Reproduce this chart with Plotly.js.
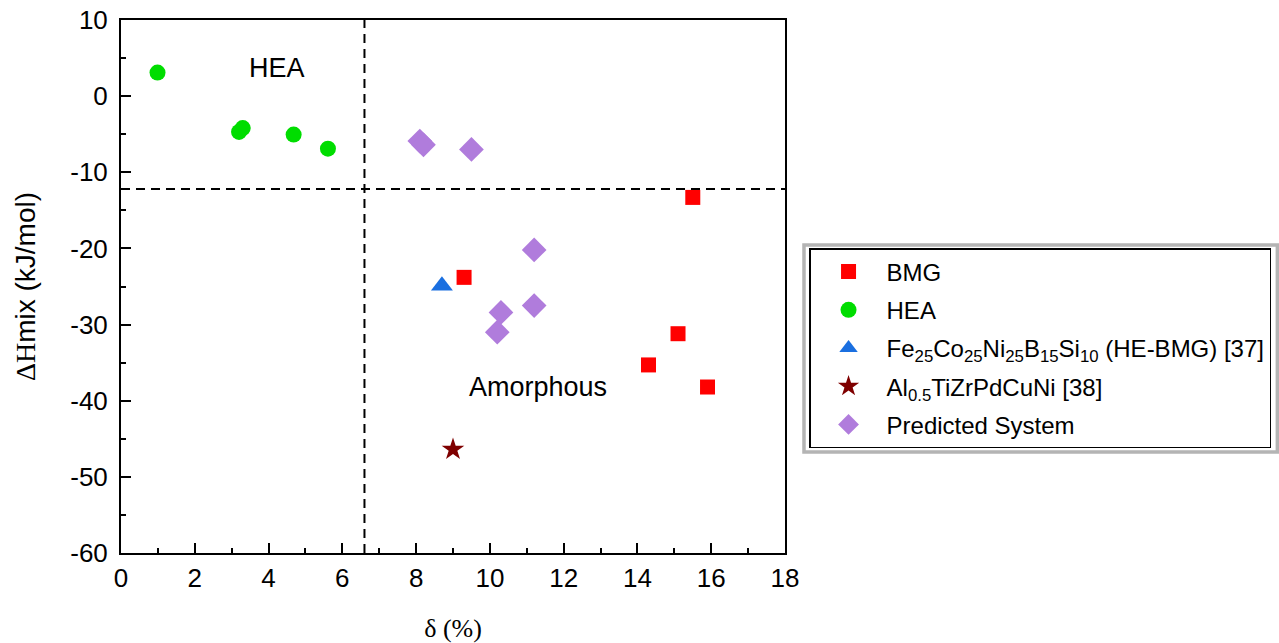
<!DOCTYPE html>
<html>
<head>
<meta charset="utf-8">
<script src="https://cdn.plot.ly/plotly-3.0.1.min.js"></script>
<style>html,body{margin:0;padding:0;background:#fff;}#chart{width:1279px;height:643px;}</style>
</head>
<body>
<div id="chart"></div>
<script>
// ---- data ----
const bmgDelta = [15.5, 9.3, 15.1, 14.3, 15.9];
const bmgH     = [-13.3, -23.8, -31.2, -35.3, -38.2];
const heaDelta = [0.99, 3.2, 3.3, 4.68, 5.61];
const heaH     = [3.1, -4.7, -4.2, -5.05, -6.9];
const hebmgDelta = [8.7];
const hebmgH     = [-24.9];
const alDelta = [9.0];
const alH     = [-46.4];
const predDelta = [8.1, 8.2, 9.5, 11.2, 10.3, 10.2, 11.2];
const predH     = [-5.9, -6.4, -7.0, -20.2, -28.4, -31.0, -27.5];
const deltaThreshold = 6.6;
const hThreshold = -12.2;
const xRange = [0, 18];
const yRange = [-60, 10];
const xTickVals = [0, 2, 4, 6, 8, 10, 12, 14, 16, 18];
const xTickText = ['0', '2', '4', '6', '8', '10', '12', '14', '16', '18'];
const yTickVals = [-60, -50, -40, -30, -20, -10, 0, 10];
const yTickText = ['-60', '-50', '-40', '-30', '-20', '-10', '0', '10'];
const regionLabels = ['HEA', 'Amorphous'];
const regionX = [4.22, 11.3];
const regionY = [3.7, -38.2];
const seriesNames = ['BMG', 'HEA',
  'Fe<sub>25</sub>Co<sub>25</sub>Ni<sub>25</sub>B<sub>15</sub>Si<sub>10</sub> (HE-BMG) [37]',
  'Al<sub>0.5</sub>TiZrPdCuNi [38]', 'Predicted System'];

const sans = 'Liberation Sans, Arial, sans-serif';
const serif = 'Liberation Serif, Times New Roman, serif';

function tr(x, y, name, symbol, color, size, g) {
  return {x: x, y: y, name: name, type: 'scatter', mode: 'markers',
    legendgroup: g, cliponaxis: false,
    marker: {symbol: symbol, color: color, size: size, line: {width: 0}}};
}
const data = [
  tr(bmgDelta, bmgH, seriesNames[0], 'square', '#ff0000', 15, 'a'),
  tr(heaDelta, heaH, seriesNames[1], 'circle', '#00dd00', 16, 'b'),
  tr(hebmgDelta, hebmgH, seriesNames[2], 'triangle-up', '#1a6fe0', 19, 'c'),
  tr(alDelta, alH, seriesNames[3], 'star', '#7f0000', 17, 'd'),
  tr(predDelta, predH, seriesNames[4], 'diamond', '#b07cdc', 19, 'e')
];

const axisCommon = {
  ticks: 'inside', ticklen: 10, tickwidth: 2, tickcolor: '#000',
  showline: true, linecolor: '#000', linewidth: 2,
  mirror: true, showgrid: false, zeroline: false,
  tickmode: 'array',
  tickfont: {family: sans, size: 26, color: '#000'}
};

const layout = {
  width: 1279, height: 643,
  margin: {l: 121, r: 494, t: 20, b: 90, autoexpand: false},
  paper_bgcolor: '#fff', plot_bgcolor: '#fff',
  font: {family: sans, color: '#000', size: 20},
  showlegend: true,
  legend: {
    x: 1.0362, y: 0.5722, xanchor: 'left', yanchor: 'top',
    bordercolor: '#000', borderwidth: 1.5, bgcolor: '#fff',
    font: {family: sans, size: 24, color: '#000'},
    traceorder: 'grouped', tracegroupgap: 4,
    itemwidth: 66
  },
  xaxis: Object.assign({}, axisCommon, {
    range: xRange, tickvals: xTickVals, ticktext: xTickText,
    ticklabelstandoff: 1,
    minor: {dtick: 1, ticks: 'inside', ticklen: 5, tickwidth: 2, tickcolor: '#000', showgrid: false},
    title: {text: 'δ (%)', font: {family: serif, size: 26}, standoff: 27}
  }),
  yaxis: Object.assign({}, axisCommon, {
    range: yRange, tickvals: yTickVals, ticktext: yTickText,
    ticklabelstandoff: 6,
    minor: {dtick: 5, ticks: 'inside', ticklen: 5, tickwidth: 2, tickcolor: '#000', showgrid: false},
    title: {text: '<span style="font-family:Liberation Serif">ΔH</span>mix (kJ/mol)', font: {family: sans, size: 28}, standoff: 26}
  }),
  shapes: [
    {type: 'line', xref: 'x', yref: 'y', x0: deltaThreshold, x1: deltaThreshold, y0: yRange[0], y1: yRange[1],
     line: {color: '#000', width: 2, dash: '9px,6px'}},
    {type: 'line', xref: 'x', yref: 'y', x0: xRange[0], x1: xRange[1], y0: hThreshold, y1: hThreshold,
     line: {color: '#000', width: 2, dash: '9px,6px'}},
    {type: 'rect', xref: 'paper', yref: 'paper', x0: 1.0286, x1: 1.7415, y0: 0.1895, y1: 0.578,
     line: {color: '#b4b4b4', width: 3.5}, fillcolor: 'rgba(0,0,0,0)', layer: 'below'}
  ],
  annotations: regionLabels.map((t, i) => ({
    x: regionX[i], y: regionY[i], xref: 'x', yref: 'y', text: t, showarrow: false,
    font: {family: sans, size: 27, color: '#000'}
  }))
};

Plotly.newPlot('chart', data, layout, {displayModeBar: false, staticPlot: true});
</script>
</body>
</html>
